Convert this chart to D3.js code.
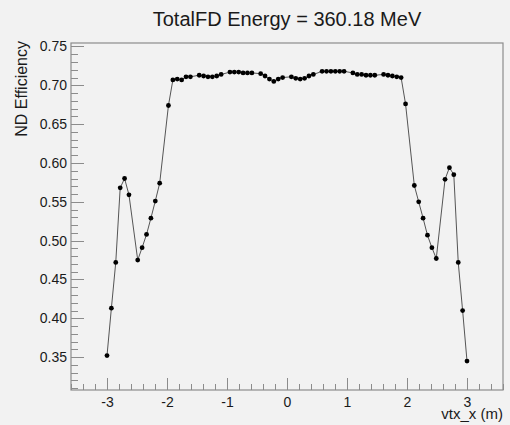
<!DOCTYPE html>
<html>
<head>
<meta charset="utf-8">
<script src="https://cdn.jsdelivr.net/npm/d3@7"></script>
<style>
  html, body { margin: 0; padding: 0; background: #f2f2f2; }
  svg { display: block; font-family: "Liberation Sans", Arial, sans-serif; }
</style>
</head>
<body>
<svg id="chart" width="510" height="425"></svg>
<script>
// ---- data ----
const title = "TotalFD Energy = 360.18 MeV";
const xLabel = "vtx_x (m)";
const yLabel = "ND Efficiency";

const vtxX = [
  -3.000, -2.927, -2.854, -2.780, -2.707, -2.634,
  -2.488, -2.415, -2.341, -2.268, -2.195, -2.122,
  -1.976, -1.902, -1.829, -1.756, -1.683, -1.610,
  -1.463, -1.390, -1.317, -1.244, -1.171, -1.098,
  -0.951, -0.878, -0.805, -0.732, -0.659, -0.585,
  -0.439, -0.366, -0.293, -0.220, -0.146, -0.073,
   0.073,  0.146,  0.220,  0.293,  0.366,  0.439,
   0.585,  0.659,  0.732,  0.805,  0.878,  0.951,
   1.098,  1.171,  1.244,  1.317,  1.390,  1.463,
   1.610,  1.683,  1.756,  1.829,  1.902,  1.976,
   2.122,  2.195,  2.268,  2.341,  2.415,  2.488,
   2.634,  2.707,  2.780,  2.854,  2.927,  3.000
];
const efficiency = [
  0.352, 0.413, 0.472, 0.568, 0.580, 0.559,
  0.475, 0.491, 0.508, 0.529, 0.551, 0.574,
  0.674, 0.707, 0.708, 0.707, 0.711, 0.711,
  0.713, 0.712, 0.711, 0.711, 0.712, 0.714,
  0.717, 0.717, 0.717, 0.716, 0.716, 0.716,
  0.715, 0.712, 0.708, 0.705, 0.708, 0.710,
  0.711, 0.709, 0.708, 0.709, 0.712, 0.714,
  0.718, 0.718, 0.718, 0.718, 0.718, 0.718,
  0.716, 0.714, 0.714, 0.713, 0.713, 0.713,
  0.714, 0.713, 0.712, 0.711, 0.710, 0.676,
  0.571, 0.550, 0.529, 0.507, 0.491, 0.477,
  0.579, 0.594, 0.585, 0.472, 0.410, 0.345
];
const xTickValues = [-3, -2, -1, 0, 1, 2, 3];
const yTickValues = [0.35, 0.40, 0.45, 0.50, 0.55, 0.60, 0.65, 0.70, 0.75];

// ---- layout ----
const W = 510, H = 425;
const frame = { left: 71, right: 503, top: 43, bottom: 390 };
const svg = d3.select("#chart");

svg.append("rect").attr("width", W).attr("height", H).attr("fill", "#f2f2f2");

const x = d3.scaleLinear().domain([-3.6, 3.6]).range([frame.left, frame.right]);
const y = d3.scaleLinear().domain([0.3077, 0.7545]).range([frame.bottom, frame.top]);

const frameColor = "#8c8c8c";
const textColor = "#1a1a1a";

// frame
svg.append("rect")
  .attr("x", frame.left).attr("y", frame.top)
  .attr("width", frame.right - frame.left).attr("height", frame.bottom - frame.top)
  .attr("fill", "#f2f2f2").attr("stroke", frameColor).attr("stroke-width", 1.2);

// minor tick values
const xMinor = d3.range(-36, 37, 2).map(d => d / 10).filter(v => Math.abs(v - Math.round(v)) > 1e-6);
const yMinor = d3.range(31, 76).map(d => d / 100).filter(v => Math.abs(v * 20 - Math.round(v * 20)) > 1e-6);

// tick marks (inside the frame)
const ticks = svg.append("g").attr("stroke", frameColor).attr("stroke-width", 1);
ticks.selectAll("line.xmaj").data(xTickValues).join("line").attr("class", "xmaj")
  .attr("x1", d => Math.round(x(d)) + 0.5).attr("x2", d => Math.round(x(d)) + 0.5)
  .attr("y1", frame.bottom).attr("y2", frame.bottom - 12);
ticks.selectAll("line.xmin").data(xMinor).join("line").attr("class", "xmin")
  .attr("x1", d => Math.round(x(d)) + 0.5).attr("x2", d => Math.round(x(d)) + 0.5)
  .attr("y1", frame.bottom).attr("y2", frame.bottom - 6);
ticks.selectAll("line.ymaj").data(yTickValues).join("line").attr("class", "ymaj")
  .attr("y1", d => Math.round(y(d)) + 0.5).attr("y2", d => Math.round(y(d)) + 0.5)
  .attr("x1", frame.left).attr("x2", frame.left + 13);
ticks.selectAll("line.ymin").data(yMinor).join("line").attr("class", "ymin")
  .attr("y1", d => Math.round(y(d)) + 0.5).attr("y2", d => Math.round(y(d)) + 0.5)
  .attr("x1", frame.left).attr("x2", frame.left + 7);

// axis labels via d3 axes
const gx = svg.append("g").attr("transform", `translate(0,${frame.bottom})`)
  .call(d3.axisBottom(x).tickValues(xTickValues).tickSize(0).tickPadding(7)
    .tickFormat(d => d < 0 ? "-" + Math.abs(d) : String(d)));
gx.selectAll(".domain").remove();
gx.selectAll("line").remove();
gx.selectAll("text").attr("fill", textColor).attr("font-size", 14)
  .attr("font-family", "Liberation Sans, Arial, sans-serif");

const gy = svg.append("g").attr("transform", `translate(${frame.left},0)`)
  .call(d3.axisLeft(y).tickValues(yTickValues).tickSize(0).tickPadding(4)
    .tickFormat(d3.format(".2f")));
gy.selectAll(".domain").remove();
gy.selectAll("line").remove();
gy.selectAll("text").attr("fill", textColor).attr("font-size", 14)
  .attr("font-family", "Liberation Sans, Arial, sans-serif");

// data line & markers
const pts = vtxX.map((v, i) => [v, efficiency[i]]);
svg.append("path")
  .datum(pts)
  .attr("fill", "none")
  .attr("stroke", "#555")
  .attr("stroke-width", 1)
  .attr("d", d3.line().x(d => x(d[0])).y(d => y(d[1])));

svg.append("g").selectAll("circle").data(pts).join("circle")
  .attr("cx", d => x(d[0])).attr("cy", d => y(d[1]))
  .attr("r", 2.4).attr("fill", "#000");

// title
svg.append("text")
  .attr("x", 287).attr("y", 26)
  .attr("text-anchor", "middle")
  .attr("font-size", 20).attr("fill", textColor)
  .text(title);

// x label
svg.append("text")
  .attr("x", frame.right).attr("y", 419)
  .attr("text-anchor", "end")
  .attr("font-size", 15).attr("fill", textColor)
  .text(xLabel);

// y label
svg.append("text")
  .attr("transform", `translate(27,${frame.top - 2}) rotate(-90)`)
  .attr("text-anchor", "end")
  .attr("font-size", 16).attr("fill", textColor)
  .text(yLabel);
</script>
</body>
</html>
